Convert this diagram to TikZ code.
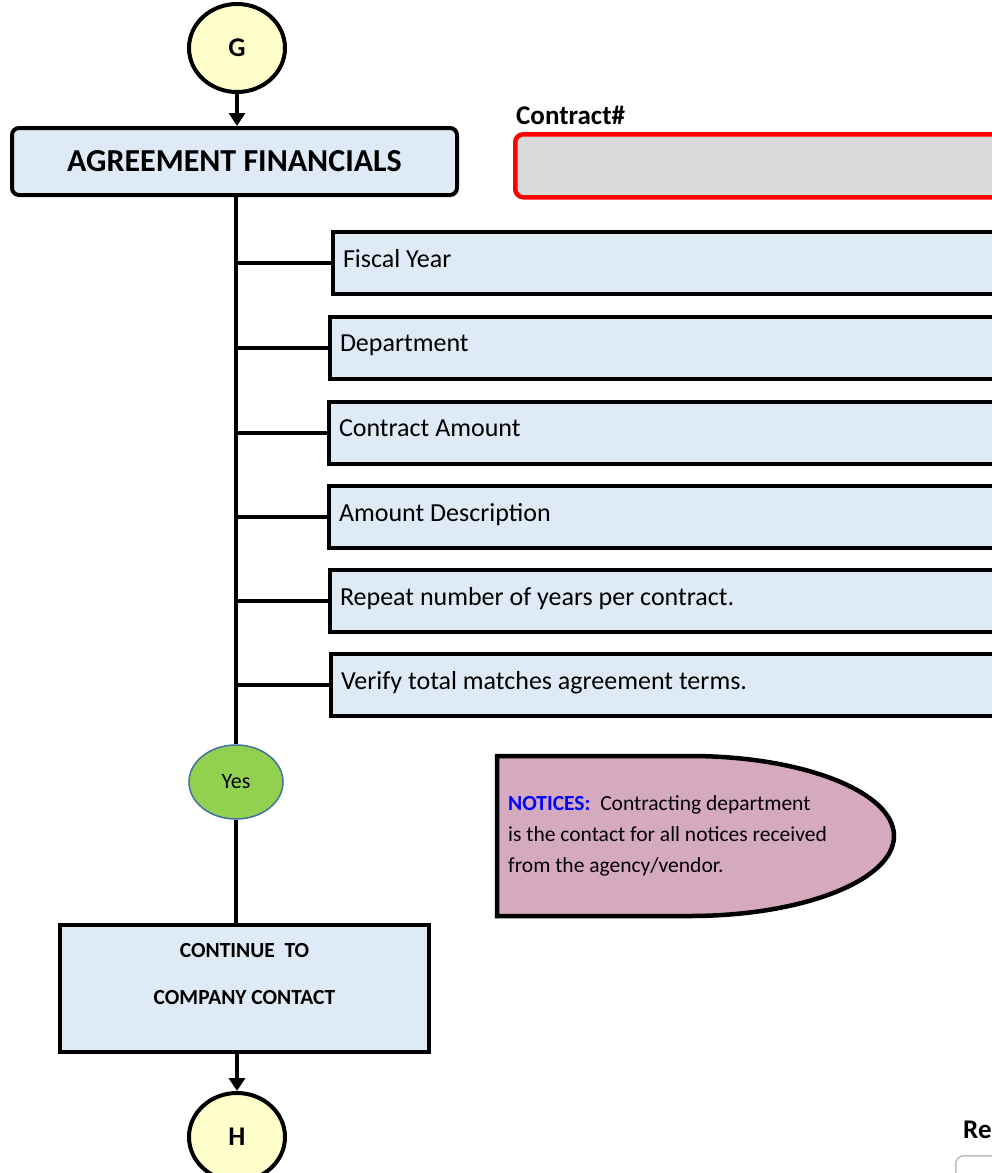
\documentclass[tikz,border=0pt]{standalone}
\usepackage{fontspec}
\setmainfont{Carlito}
\usetikzlibrary{arrows.meta,shapes.geometric}
\definecolor{boxblue}{HTML}{DEEAF6}
\definecolor{circyel}{HTML}{FFFFCC}
\definecolor{yesgreen}{HTML}{92D050}
\definecolor{yesedge}{HTML}{41719C}
\definecolor{notpink}{HTML}{D5A9BE}
\definecolor{greyfill}{HTML}{D9D9D9}
\newcommand{\fieldtext}[1]{\raisebox{9pt}{#1}}
\tikzset{
  conn/.style={draw=black,ellipse,line width=4pt,fill=circyel,minimum width=96pt,minimum height=88pt,inner sep=0pt,font=\fontsize{27}{29}\selectfont\bfseries},
  field/.style={draw=black,line width=4pt,fill=boxblue,anchor=north west,minimum width=720pt,minimum height=62pt,text width=700pt,inner xsep=7pt,align=flush left,font=\fontsize{26}{30}\selectfont},
  link/.style={line width=4pt},
  arr/.style={line width=4pt,-{Triangle[length=13pt,width=16pt]}},
}
\begin{document}
\begin{tikzpicture}[x=1pt,y=-1pt]
\useasboundingbox (0,0) rectangle (992,1173);
\clip (0,0) rectangle (992,1173);
\fill[white] (0,0) rectangle (992,1173);

% G connector
\node[conn] (G) at (237,48) {G};
% title
\node[draw=black,line width=4pt,fill=boxblue,rounded corners=7pt,minimum width=445pt,minimum height=67pt,inner sep=0pt,font=\fontsize{32}{34}\selectfont\bfseries] (title) at (234.5,161.5) {AGREEMENT FINANCIALS};
\draw[arr] (G.south) -- (G.south |- title.north);

% contract
\node[anchor=base west,inner sep=0pt,font=\fontsize{27}{29}\selectfont\bfseries] (clabel) at (516,124) {Contract\#};
\node[draw=red,line width=4.5pt,fill=greyfill,rounded corners=8pt,anchor=north west,minimum width=520pt,minimum height=63pt,inner sep=0pt] (cbox) at (513,132) {};

% fields
\node[field] (f1) at (331,230) {\fieldtext{Fiscal Year}};
\node[field] (f2) at (328,315) {\fieldtext{Department}};
\node[field] (f3) at (327,400) {\fieldtext{Contract Amount}};
\node[field] (f4) at (327,484) {\fieldtext{Amount Description}};
\node[field] (f5) at (328,568) {\fieldtext{Repeat number of years per contract.}};
\node[field] (f6) at (329,652) {\fieldtext{Verify total matches agreement terms.}};

% yes
\node[draw=yesedge,line width=1.5pt,fill=yesgreen,ellipse,minimum width=94pt,minimum height=74pt,inner sep=0pt,font=\fontsize{22}{24}\selectfont] (yes) at (236,782) {Yes};

% trunk and branches
\draw[link] (title.south -| yes.north) -- (yes.north);
\foreach \f in {f1,f2,f3,f4,f5,f6} {
  \draw[link] (\f.west -| yes.north) -- (\f.west);
}

% notices
\draw[line width=4.5pt,fill=notpink] (497,756) -- (690,756) arc[start angle=-90,end angle=90,x radius=204,y radius=80] -- (497,916) -- cycle;
\node[anchor=north west,inner sep=0pt,align=left,font=\fontsize{21.5}{31}\selectfont] (notes) at (508,795) {{\bfseries\color{blue}NOTICES:}\ \ Contracting department\\is the contact for all notices received\\from the agency/vendor.};

% continue
\node[draw=black,line width=4pt,fill=boxblue,minimum width=369pt,minimum height=127pt,inner sep=0pt,align=center,font=\fontsize{21.5}{47}\selectfont\bfseries] (cont) at (244.5,988.5) {CONTINUE\ \ TO\\COMPANY CONTACT\\[-17pt]\mbox{}};
\draw[link] (yes.south) -- (yes.south |- cont.north);

% H connector
\node[conn] (H) at (237,1137) {H};
\draw[arr] (cont.south -| H.north) -- (H.north);

% bottom right fragment
\node[anchor=base west,inner sep=0pt,font=\fontsize{27}{29}\selectfont\bfseries] (re) at (963,1138) {Re};
\node[draw=black!25,line width=1.5pt,fill=white,rounded corners=8pt,anchor=north west,minimum width=200pt,minimum height=60pt] (rebox) at (955,1155) {};
\end{tikzpicture}
\end{document}
